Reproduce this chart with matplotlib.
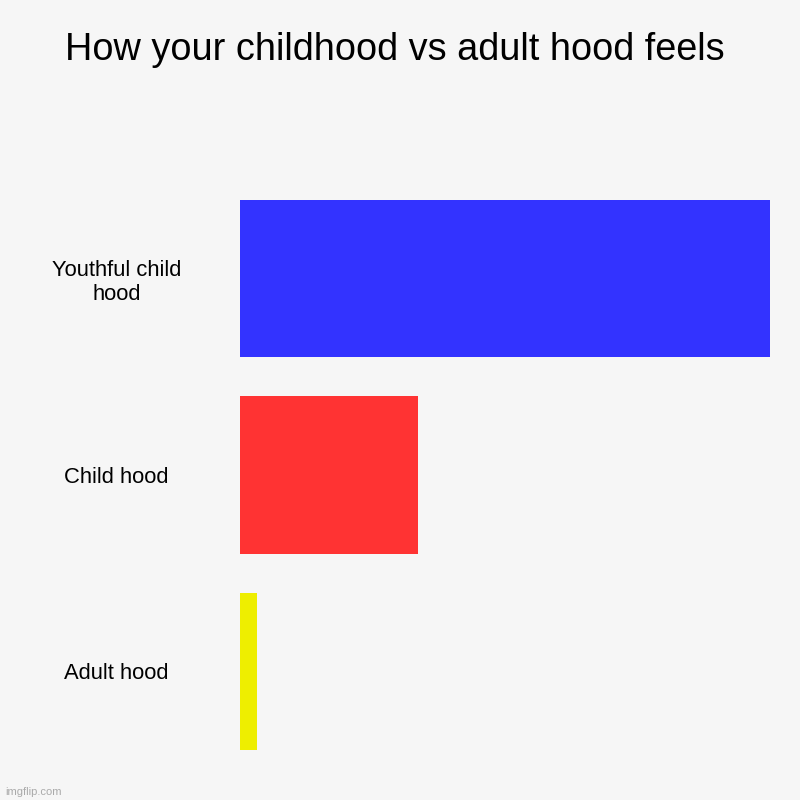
import matplotlib.pyplot as plt

#Data
labels=['Youthful child\nhood','Child hood','Adult hood']
values=[100,33.5,3.2]
colors=['#3333ff','#ff3333','#eeee00']

plt.rcParams['font.family']=['Liberation Sans','DejaVu Sans']

fig=plt.figure(figsize=(8,8),dpi=100,facecolor='#f6f6f6')
ax=fig.add_axes([0.3,0.0625,0.6625,0.6875])
ax.set_facecolor('#f6f6f6')

pos=list(range(len(labels)))
ax.barh(pos,values,height=0.8,color=colors)
ax.set_xlim(0,100)
ax.set_ylim(2.4,-0.4)

#Axis styling
for s in ax.spines.values():
    s.set_visible(False)
ax.set_xticks([])
ax.set_yticks(pos)
ax.set_yticklabels(labels,fontsize=15.8,ha='center',multialignment='center',linespacing=1.2)
ax.tick_params(axis='y',length=0,pad=89)

fig.text(0.494,0.938,"How your childhood vs adult hood feels",
         ha='center',va='center',fontsize=27.3)
fig.text(0.006,0.004,"imgflip.com",fontsize=8,color='#aaaaaa',ha='left',va='bottom')

fig.savefig('out.png',dpi=100,facecolor=fig.get_facecolor())
